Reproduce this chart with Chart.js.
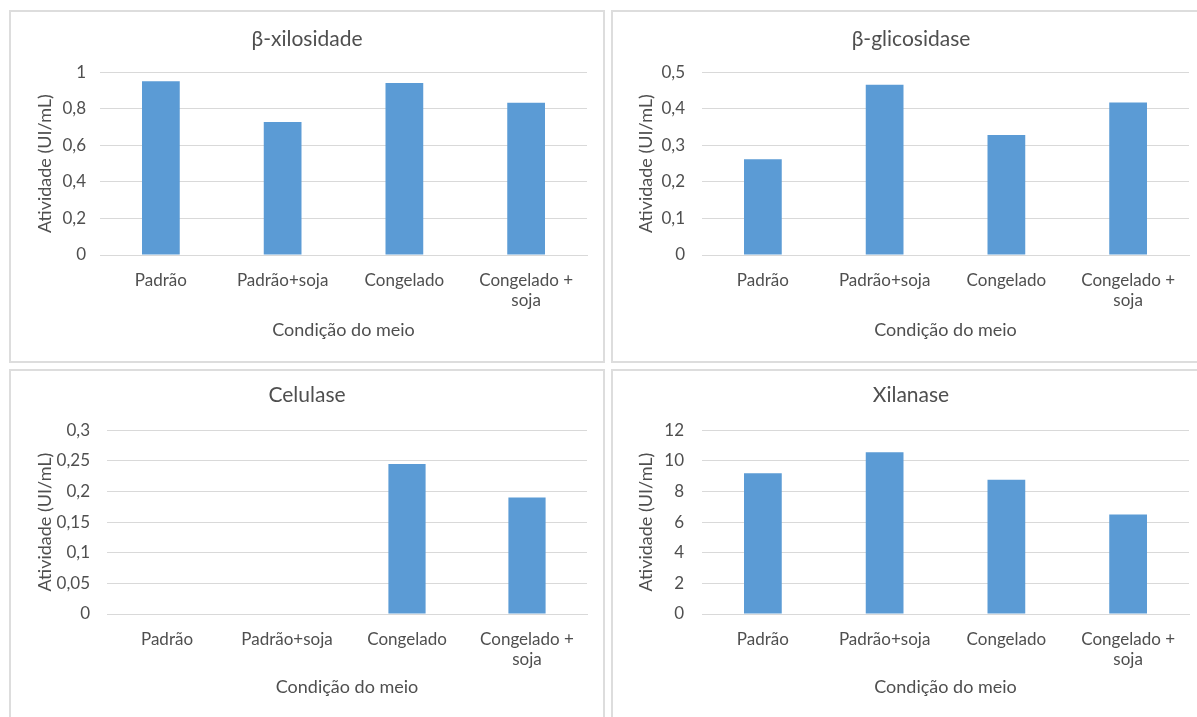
<!DOCTYPE html>
<html>
<head>
<meta charset="utf-8">
<script src="https://cdn.jsdelivr.net/npm/chart.js@4/dist/chart.umd.min.js"></script>
<style>
  html, body { margin: 0; padding: 0; background: #ffffff; overflow: hidden; }
  body { width: 1197px; height: 717px; position: relative; }
  .panel { position: absolute; box-sizing: border-box; border: 2px solid #dddddd; background: #fff; }
  .panel canvas { position: absolute; left: 0; top: 0; }
</style>
</head>
<body>
<div class="panel" id="p1" style="left:9px; top:10px; width:596px; height:353px;"><canvas id="c1" width="592" height="349"></canvas></div>
<div class="panel" id="p2" style="left:611px; top:10px; width:600px; height:353px;"><canvas id="c2" width="596" height="349"></canvas></div>
<div class="panel" id="p3" style="left:9px; top:369px; width:596px; height:360px;"><canvas id="c3" width="592" height="349"></canvas></div>
<div class="panel" id="p4" style="left:611px; top:369px; width:600px; height:360px;"><canvas id="c4" width="596" height="349"></canvas></div>
<script>
// Culture-medium conditions (x categories)
const categories = ['Padrão', 'Padrão+soja', 'Congelado', ['Congelado +', 'soja']];

// Enzyme activity, UI/mL
const xilosidaseValues  = [0.951, 0.727, 0.941, 0.833];
const glicosidaseValues = [0.262, 0.466, 0.328, 0.417];
const celulaseValues    = [0, 0, 0.245, 0.190];
const xilanaseValues    = [9.19, 10.56, 8.77, 6.50];

// Panel titles and y-axis ranges
const panelTitles = ['β-xilosidade', 'β-glicosidase', 'Celulase', 'Xilanase'];
const yAxisMax  = [1, 0.5, 0.3, 12];
const yAxisStep = [0.2, 0.1, 0.05, 2];

const xAxisTitle = 'Condição do meio';
const yAxisTitle = 'Atividade (UI/mL)';

const TEXT = '#4f4f4f';
const GRID = '#d9d9d9';
const BAR  = '#5b9bd5';
const FONT = "Lato, 'Open Sans', sans-serif";

function decimalComma(v) {
  return String(+v.toFixed(2)).replace('.', ',');
}

function makeChart(canvasId, idx, values, layoutCfg) {
  return new Chart(document.getElementById(canvasId), {
    type: 'bar',
    data: {
      labels: categories,
      datasets: [{
        data: values,
        backgroundColor: BAR,
        borderWidth: 0,
        barPercentage: 0.31,
        categoryPercentage: 1
      }]
    },
    options: {
      responsive: false,
      animation: false,
      events: [],
      layout: { padding: { left: layoutCfg.side, right: layoutCfg.side, top: 0, bottom: 0 } },
      plugins: {
        legend: { display: false },
        tooltip: { enabled: false },
        title: {
          display: true,
          text: panelTitles[idx],
          color: TEXT,
          font: { family: FONT, size: 21, weight: 'normal', lineHeight: 1.2 },
          padding: { top: layoutCfg.titleTop, bottom: layoutCfg.titleBottom }
        }
      },
      scales: {
        x: {
          grid: { display: false, drawTicks: false },
          border: { display: true, color: GRID, width: 1 },
          ticks: {
            color: TEXT,
            font: { family: FONT, size: 17, lineHeight: 1.2 },
            padding: 15,
            maxRotation: 0,
            autoSkip: false
          },
          title: {
            display: true,
            text: xAxisTitle,
            color: TEXT,
            font: { family: FONT, size: 18, lineHeight: 1.2 },
            padding: { top: 0, bottom: layoutCfg.xTitleBottom }
          },
          afterFit: (scale) => { scale.height = layoutCfg.xHeight; }
        },
        y: {
          min: 0,
          max: yAxisMax[idx],
          grid: { color: GRID, lineWidth: 1, drawTicks: false },
          border: { display: false },
          ticks: {
            stepSize: yAxisStep[idx],
            color: TEXT,
            font: { family: FONT, size: 17 },
            padding: layoutCfg.tickPad,
            callback: (v) => decimalComma(v)
          },
          title: {
            display: true,
            text: yAxisTitle,
            color: TEXT,
            font: { family: FONT, size: 18, lineHeight: 1.2 },
            padding: { top: layoutCfg.yTitleTop, bottom: 0 }
          },
          afterFit: (scale) => { scale.width = layoutCfg.yWidth; }
        }
      }
    }
  });
}

makeChart('c1', 0, xilosidaseValues,  { side: 16, yWidth: 73, tickPad: 14, yTitleTop: 7, titleTop: 15, titleBottom: 20, xHeight: 106, xTitleBottom: 20 });
makeChart('c2', 1, glicosidaseValues, { side: 20, yWidth: 69, tickPad: 17, yTitleTop: 2, titleTop: 15, titleBottom: 20, xHeight: 106, xTitleBottom: 20 });
makeChart('c3', 2, celulaseValues,    { side: 16, yWidth: 80, tickPad: 17, yTitleTop: 7, titleTop: 12, titleBottom: 22, xHeight: 106, xTitleBottom: 22 });
makeChart('c4', 3, xilanaseValues,    { side: 20, yWidth: 69, tickPad: 18, yTitleTop: 2, titleTop: 12, titleBottom: 22, xHeight: 106, xTitleBottom: 22 });
</script>
</body>
</html>
